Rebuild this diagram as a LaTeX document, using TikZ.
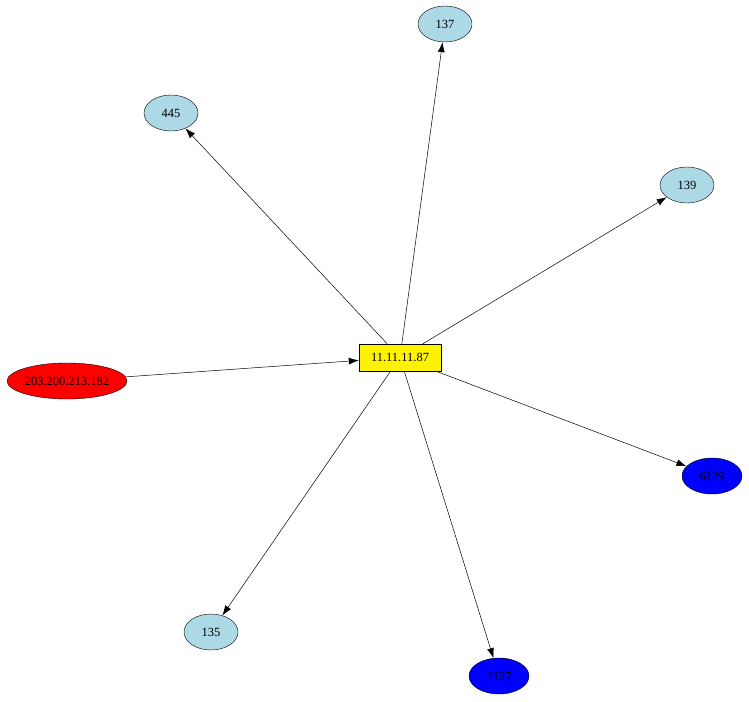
\documentclass[tikz,border=0pt]{standalone}
\usepackage{fontspec}
\setmainfont{Liberation Serif}
\usepackage{tikz}
\usetikzlibrary{calc, arrows.meta, shapes}
\definecolor{lblue}{RGB}{173,216,230}
\tikzset{>={Latex[length=10pt,width=7pt]}}

\begin{document}
\begin{tikzpicture}[x=1pt, y=-1pt,
  port/.style={draw, ellipse, inner sep=0, minimum height=36pt, minimum width=54pt, fill=lblue, font=\fontsize{12.5}{14}\selectfont},
  wide/.style={port, minimum width=60pt, fill=blue},
  hostbox/.style={draw, rectangle, fill=yellow, minimum width=82pt, minimum height=27pt, inner sep=0, font=\fontsize{12.5}{14}\selectfont},
  link/.style={->, line width=0.5pt}]
\useasboundingbox (0, 0) rectangle (749, 701);
\node[hostbox] (host) at (400, 357.5) {11.11.11.87};
\node[port, fill=red, minimum width=120pt] (src) at (67, 381) {203.200.213.182};
\node[port] (p137) at (445, 24) {137};
\node[port] (p445) at (171, 113) {445};
\node[port] (p139) at (687, 185) {139};
\node[port] (p135) at (211, 632) {135};
\node[wide] (p6129) at (712, 476) {6129};
\node[wide] (p3127) at (499, 676) {3127};
\draw[link] (src) -- (host);
\draw[link] (host) -- (p137);
\draw[link] (host) -- (p445);
\draw[link] (host) -- (p139);
\draw[link] (host) -- (p135);
\draw[link] (host) -- (p6129);
\draw[link] (host) -- (p3127);
\end{tikzpicture}
\end{document}
